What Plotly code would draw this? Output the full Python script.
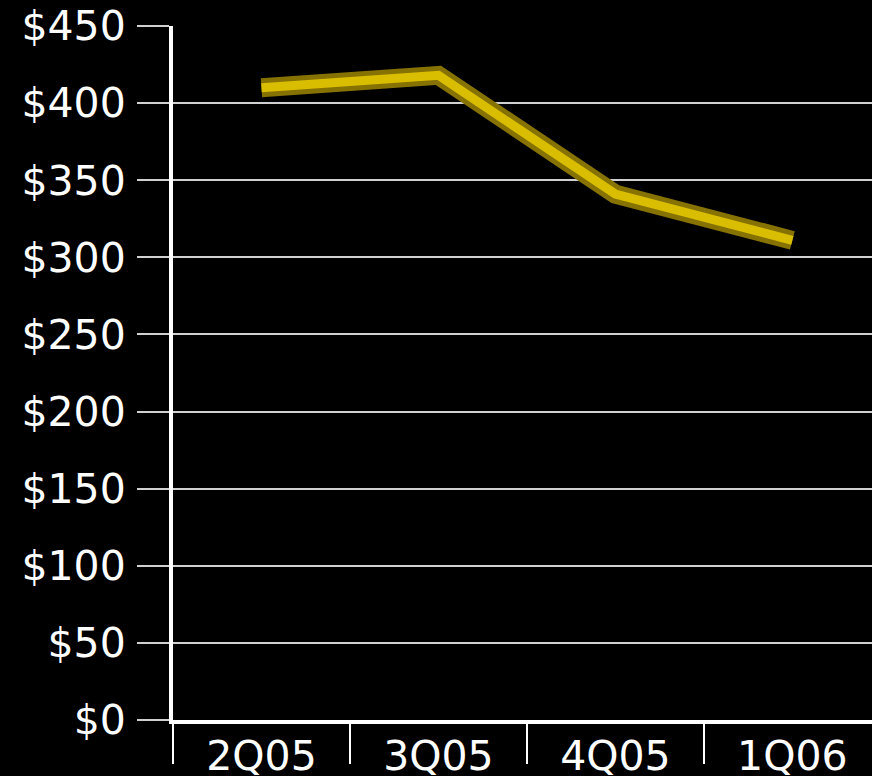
import plotly.graph_objects as go

quarters = ["2Q05", "3Q05", "4Q05", "1Q06"]
values = [410, 418, 341, 311]
y_ticks = [0, 50, 100, 150, 200, 250, 300, 350, 400, 450]
y_labels = ["$" + str(v) for v in y_ticks]

FONT = dict(family="DejaVu Sans, Verdana, sans-serif", size=41, color="white")

fig = go.Figure()

# darker rim underneath, brighter face on top (fakes the bevelled 3D line)
fig.add_trace(
    go.Scatter(
        x=quarters,
        y=values,
        mode="lines",
        line=dict(color="#857200", width=19),
        hoverinfo="skip",
    )
)
fig.add_trace(
    go.Scatter(
        x=quarters,
        y=values,
        mode="lines",
        line=dict(color="#d9be00", width=9),
    )
)

fig.update_layout(
    width=872,
    height=776,
    paper_bgcolor="black",
    plot_bgcolor="black",
    showlegend=False,
    font=FONT,
    margin=dict(l=173, r=0, t=26, b=56),
    xaxis=dict(
        type="category",
        range=[-0.5, 3.45],
        automargin=False,
        showgrid=False,
        showline=True,
        linecolor="white",
        linewidth=4,
        ticks="outside",
        tickson="boundaries",
        ticklen=40,
        tickwidth=2,
        tickcolor="white",
        ticklabelstandoff=-3,
        tickfont=FONT,
    ),
    yaxis=dict(
        range=[0, 450],
        automargin=False,
        tickvals=y_ticks,
        ticktext=y_labels,
        showgrid=True,
        gridcolor="#d0d0d0",
        gridwidth=2,
        zeroline=False,
        showline=True,
        linecolor="white",
        linewidth=4,
        ticks="outside",
        ticklen=32,
        tickwidth=2,
        tickcolor="#d0d0d0",
        ticklabelstandoff=3,
        tickfont=FONT,
    ),
)

fig.write_html(
    "out.html",
    config={"displayModeBar": False},
    post_script="document.body.style.margin='0';document.body.style.background='black';",
)
